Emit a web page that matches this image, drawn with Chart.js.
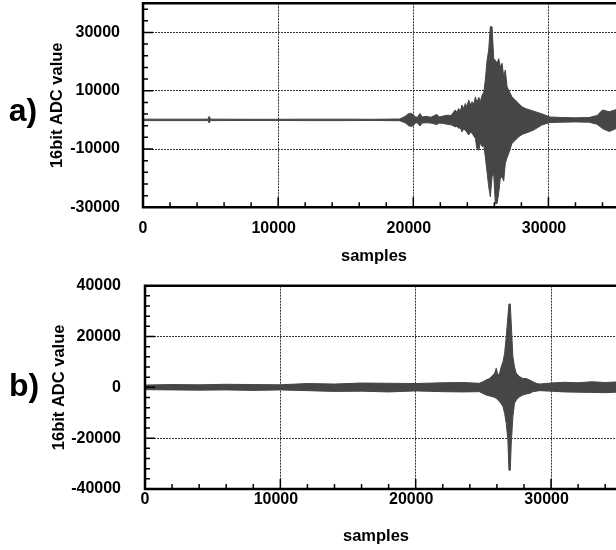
<!DOCTYPE html>
<html>
<head>
<meta charset="utf-8">
<script src="https://cdn.jsdelivr.net/npm/chart.js@4.4.0/dist/chart.umd.min.js"></script>
<style>
    html, body { margin: 0; padding: 0; background: #fff; }
    #wrap { position: relative; width: 616px; height: 550px; overflow: hidden; }
    .panel { position: absolute; left: 0; width: 616px; height: 275px; }
</style>
</head>
<body>
<div id="wrap">
    <div class="panel" style="top:0"><canvas id="chartA"></canvas></div>
    <div class="panel" style="top:275px"><canvas id="chartB"></canvas></div>
</div>
<script>
const samplesA = [0, 2000, 4800, 4900, 5000, 8000, 10000, 12000, 15000, 17000,
    19000, 19400, 19600, 19800, 20000, 20150, 20300, 20500, 20650, 21000,
    21300, 21750, 21900, 22200, 22500, 22800, 23100, 23230, 23350, 23480,
    23600, 23720, 23850, 23970, 24100, 24230, 24350, 24470, 24600, 24700,
    24850, 24970, 25100, 25220, 25330, 25460, 25580, 25700, 25830, 25950,
    26070, 26200, 26320, 26440, 26570, 26690, 26810, 26940, 27060, 27300,
    27550, 27800, 28050, 28300, 28900, 29500, 30100, 31000, 32000, 33000,
    33600, 34000, 34500, 35000];
const upperA = [250, 250, 250, 1200, 250, 200, 200, 250, 250, 200,
    300, 1200, 2000, 2300, 1800, 1000, 900, 2200, 1000, 1200,
    900, 1900, 1000, 1300, 1600, 1500, 3400, 2600, 3900, 3000,
    5100, 3900, 5600, 4600, 6800, 5200, 6200, 5400, 7900, 6000,
    7700, 6400, 8500, 9500, 13700, 20500, 24000, 32000, 31900, 21100,
    20500, 19400, 21000, 18200, 19400, 14800, 17100, 11400, 10200, 7900,
    6800, 5600, 4500, 3900, 3000, 2100, 1000, 800, 700, 800,
    1500, 3400, 2800, 3500];
const lowerA = [-250, -250, -250, -1100, -250, -200, -200, -250, -250, -200,
    -300, -1000, -1800, -2300, -2000, -1100, -1000, -2100, -1100, -1000,
    -1100, -1600, -1100, -1200, -1500, -1700, -2400, -2200, -2900, -2700,
    -4100, -3200, -3500, -4300, -5200, -4200, -4600, -5500, -6400, -9800,
    -10400, -7800, -9200, -8800, -12700, -18000, -22900, -26400, -19500, -18400,
    -28700, -28700, -25200, -20000, -19500, -21000, -14900, -13000, -11500, -8100,
    -7000, -5800, -5000, -4600, -3500, -1800, -900, -800, -700, -800,
    -1500, -3000, -4000, -3000];

const samplesB = [0, 2000, 4000, 6000, 8000, 10000, 12000, 14000, 16000, 18000,
    20000, 22000, 23500, 24700, 24970, 25200, 25460, 25700, 25830, 25950,
    26080, 26200, 26320, 26450, 26570, 26690, 26810, 26890, 26990, 27060,
    27180, 27300, 27430, 27680, 27920, 28170, 28410, 28660, 28900, 29150,
    30000, 31000, 32000, 33000, 34000, 34800];
const upperB = [900, 1100, 1000, 1200, 1100, 1000, 1500, 1300, 1700, 1600,
    1500, 1800, 1900, 1600, 2200, 2900, 3500, 4800, 5500, 7500,
    4800, 5500, 8100, 10100, 13400, 19900, 27800, 32800, 32800, 25200,
    12100, 8100, 5500, 4200, 3500, 3500, 2900, 2200, 1600, 1300,
    1700, 2000, 1800, 2200, 1900, 2100];
const lowerB = [-900, -1000, -1100, -1000, -1200, -1000, -1300, -1600, -1500, -1800,
    -1400, -1700, -1800, -1700, -2400, -3000, -3400, -3700, -4000, -4300,
    -5000, -5700, -6500, -7600, -10200, -14200, -20700, -32600, -32600, -22100,
    -11600, -6300, -5000, -3700, -3000, -2600, -2400, -1700, -1500, -1300,
    -1500, -1800, -1900, -2000, -2100, -1900];

// Labelled (major) ticks; minor ticks sit between them
const xMajor = [0, 10000, 20000, 30000];
const yMajorA = [-30000, -10000, 10000, 30000];
const yMajorB = [-40000, -20000, 0, 20000, 40000];
const X_MINOR_STEP = 2000;
const Y_MINOR_STEP = 4000;

const SIGNAL = '#464646';
const FONT = '"Liberation Sans", Arial, sans-serif';

Chart.defaults.font.family = FONT;
Chart.defaults.color = '#000';

// Inward tick marks, the frame (no right edge, it is cut off) and the extra labels
const framePlugin = {
    id: 'frame',
    afterDraw(chart, args, opts) {
        const { ctx, chartArea: a } = chart;
        const x = chart.scales.x;
        const y = chart.scales.y;
        ctx.save();
        ctx.strokeStyle = '#000';
        ctx.lineWidth = 1.5;
        ctx.beginPath();
        x.ticks.forEach(t => {
            const px = x.getPixelForValue(t.value);
            const len = xMajor.includes(t.value) ? 10 : 5;
            ctx.moveTo(px, a.bottom);
            ctx.lineTo(px, a.bottom - len);
        });
        y.ticks.forEach(t => {
            const py = y.getPixelForValue(t.value);
            const len = opts.yMajor.includes(t.value) ? 10 : 5;
            ctx.moveTo(a.left, py);
            ctx.lineTo(a.left + len, py);
        });
        ctx.stroke();

        ctx.lineWidth = 2.5;
        ctx.beginPath();
        ctx.moveTo(a.right, a.top);
        ctx.lineTo(a.left, a.top);
        ctx.lineTo(a.left, a.bottom);
        ctx.lineTo(a.right, a.bottom);
        ctx.stroke();

        ctx.fillStyle = '#000';
        ctx.textAlign = 'center';
        ctx.textBaseline = 'alphabetic';
        ctx.font = 'bold 16.5px ' + FONT;
        ctx.fillText('samples', opts.titleX, opts.titleY);
        ctx.font = 'bold 32px ' + FONT;
        ctx.fillText(opts.letter, opts.letterX, opts.letterY);
        ctx.restore();
    }
};

function toPoints(samples, values) {
    return samples.map((s, i) => ({ x: s, y: values[i] }));
}

function stepTicks(min, max, step) {
    const ticks = [];
    for (let v = min; v <= max; v += step) ticks.push({ value: v });
    return ticks;
}

/**
 * Builds one panel of the figure.
 */
function makePanel(canvasId, p) {
    const ctx = document.getElementById(canvasId).getContext('2d');
    return new Chart(ctx, {
        type: 'line',
        data: {
            datasets: [{
                data: toPoints(p.samples, p.upper),
                borderColor: SIGNAL,
                backgroundColor: SIGNAL,
                borderWidth: 1,
                pointRadius: 0,
                fill: '+1'
            }, {
                data: toPoints(p.samples, p.lower),
                borderColor: SIGNAL,
                borderWidth: 1,
                pointRadius: 0,
                fill: false
            }]
        },
        options: {
            responsive: true,
            maintainAspectRatio: false,
            animation: false,
            devicePixelRatio: 1,
            layout: { padding: { top: p.top, left: 0, right: 0, bottom: 0 } },
            plugins: {
                legend: { display: false },
                tooltip: { enabled: false },
                frame: p.frame
            },
            scales: {
                x: {
                    type: 'linear',
                    min: 0,
                    max: p.xMax,
                    afterBuildTicks: scale => { scale.ticks = stepTicks(0, p.xMax, X_MINOR_STEP); },
                    afterFit: scale => {
                        scale.height = p.xHeight;
                        scale.paddingLeft = 0;
                        scale.paddingRight = 0;
                    },
                    ticks: {
                        autoSkip: false,
                        maxRotation: 0,
                        padding: p.xPad,
                        font: { size: 16, weight: 'bold' },
                        // trailing spaces nudge the long labels left, as in the original
                        callback: v => xMajor.includes(v) ? (v === 0 ? '0' : v + '  ') : ''
                    },
                    grid: {
                        drawTicks: false,
                        lineWidth: 1,
                        color: c => (c.tick && xMajor.includes(c.tick.value)) ? '#333' : 'rgba(0,0,0,0)'
                    },
                    border: { display: false, dash: [2, 1] }
                },
                y: {
                    min: p.yMin,
                    max: p.yMax,
                    afterBuildTicks: scale => { scale.ticks = stepTicks(p.yMin, p.yMax, Y_MINOR_STEP); },
                    afterFit: scale => {
                        scale.width = p.yWidth;
                        // tick padding is only meant to push labels left, not to shrink the plot
                        scale.paddingTop = 0;
                        scale.paddingBottom = 0;
                    },
                    ticks: {
                        autoSkip: false,
                        padding: p.yPad,
                        font: { size: 16, weight: 'bold' },
                        callback: v => p.frame.yMajor.includes(v) ? String(v) : ''
                    },
                    grid: {
                        drawTicks: false,
                        lineWidth: 1,
                        color: c => (c.tick && p.frame.yMajor.includes(c.tick.value)) ? '#333' : 'rgba(0,0,0,0)'
                    },
                    border: { display: false, dash: [2, 1] },
                    title: {
                        display: true,
                        text: '16bit ADC value',
                        color: '#000',
                        font: { size: 16.5, weight: 'bold' },
                        padding: { top: p.titlePad, bottom: 0 }
                    }
                }
            }
        },
        plugins: [framePlugin]
    });
}

makePanel('chartA', {
    samples: samplesA, upper: upperA, lower: lowerA,
    xMax: 35000, yMin: -30000, yMax: 40000,
    top: 3.3, xHeight: 67.7, yWidth: 143,
    xPad: 12, yPad: 23, titlePad: 48,
    frame: { yMajor: yMajorA, letter: 'a)', letterX: 23, letterY: 121, titleX: 374, titleY: 260.5 }
});

makePanel('chartB', {
    samples: samplesB, upper: upperB, lower: lowerB,
    xMax: 34800, yMin: -40000, yMax: 40000,
    top: 10.7, xHeight: 61, yWidth: 145,
    xPad: 1, yPad: 24, titlePad: 50,
    frame: { yMajor: yMajorB, letter: 'b)', letterX: 24, letterY: 121, titleX: 376, titleY: 265.5 }
});
</script>
</body>
</html>
